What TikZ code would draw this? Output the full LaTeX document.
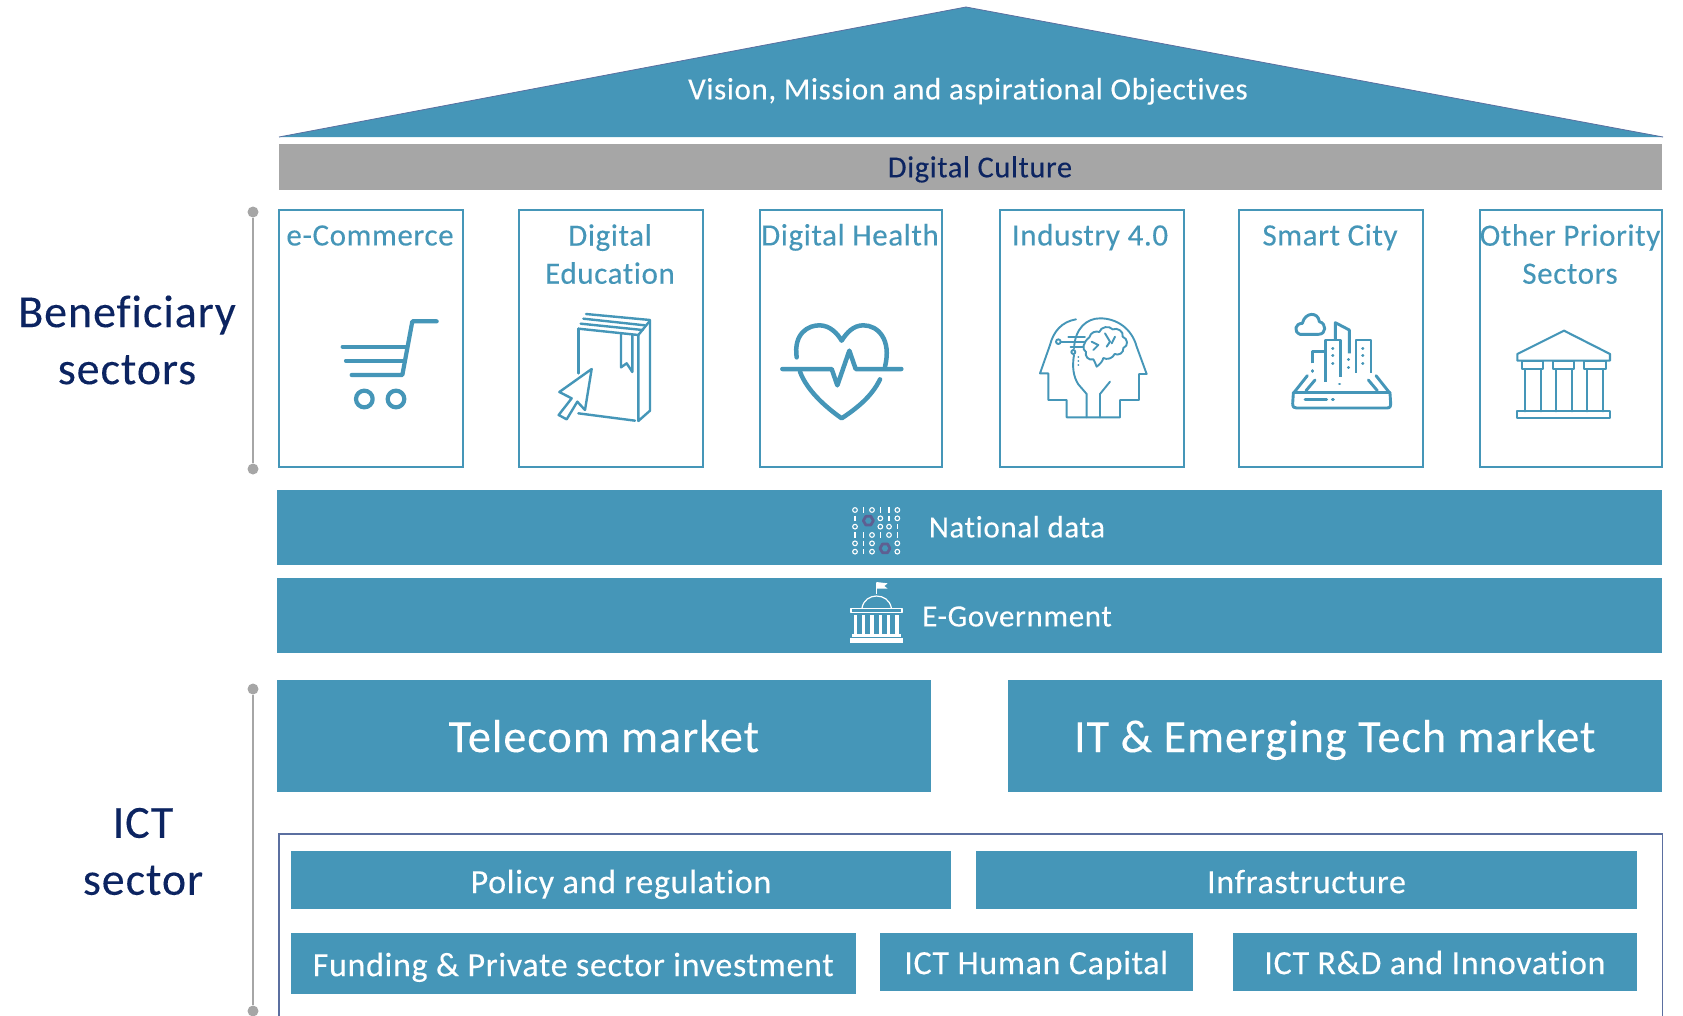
\documentclass[tikz,border=0pt]{standalone}
\usepackage{fontspec}
\setmainfont{Carlito}[Ligatures=NoCommon,LetterSpace=2,FakeBold=0.2]
\definecolor{teal}{HTML}{4596B8}
\definecolor{navy}{HTML}{0C2461}
\definecolor{midgray}{HTML}{A6A6A6}
\definecolor{frameblue}{HTML}{5B6FA0}
\definecolor{gearpurple}{HTML}{5E5F92}
\newcommand{\fs}[1]{\fontsize{#1}{#1}\selectfont}
\tikzset{
  ft/.style={font=\fs{#1},text height=0.68*#1pt,text depth=0.2*#1pt},
  bar/.style={fill=teal,draw=none,text=white,inner sep=0pt,align=center},
  lab/.style={text=white,inner sep=0pt},
  card/.style={draw=teal,line width=1.6pt,fill=white,inner sep=0pt},
  cardtext/.style={text=teal,align=center,inner sep=0pt},
  side/.style={text=navy,align=center,inner sep=0pt,font=\fs{46}},
  icon/.style={draw=teal,line cap=round,line join=round},
  gdot/.style={circle,fill=midgray,draw=none,minimum size=11pt,inner sep=0pt},
  wicon/.style={draw=white,line join=round},
}
\begin{document}
\begin{tikzpicture}[x=1pt,y=-1pt]
\useasboundingbox (0,0) rectangle (1683,1015);
\clip (0,0) rectangle (1683,1015);
% roof
\fill[teal] (966,7) -- (1663,137) -- (279,137) -- cycle;
\draw[frameblue,line width=0.8pt] (279,137) -- (966,7) -- (1663,137);
\node[lab,ft=31] (vision) at (968,92) {Vision, Mission and aspirational Objectives};
% culture
\node[fill=midgray,minimum width=1382.5pt,minimum height=46pt,inner sep=0pt] (culture) at (970.25,167) {};
\node[text=navy,inner sep=0pt,ft=30.5] (culturetext) at (980,170) {Digital Culture};
% cards
\foreach \n/\a/\b in {c1/279/463,c2/519/703,c3/760/942,c4/1000/1184,c5/1239/1423,c6/1480/1662}{
  \pgfmathsetmacro{\cx}{(\a+\b)/2}
  \pgfmathsetmacro{\w}{\b-\a}
  \node[card,minimum width=\w pt,minimum height=257pt] (\n) at (\cx,338.5) {};
}
\node[cardtext,ft=31] (t1) at (370,238) {e-Commerce};
\node[cardtext,font=\fs{31},anchor=north] (t2) at (610,224) {Digital\\[7pt]Education};
\node[cardtext,ft=31] (t3) at (850,238) {Digital Health};
\node[cardtext,ft=31] (t4) at (1090,238) {Industry 4.0};
\node[cardtext,ft=31] (t5) at (1330,238) {Smart City};
\node[cardtext,font=\fs{31},anchor=north] (t6) at (1570,224) {Other Priority\\[7pt]Sectors};
% bars
\node[bar,minimum width=1384.5pt,minimum height=75pt] (data) at (969.25,527) {};
\node[lab,ft=31] (datatext) at (1017,530) {National data};
\node[bar,minimum width=1384.5pt,minimum height=75pt] (gov) at (969.25,615.5) {};
\node[lab,ft=31] (govtext) at (1017,619) {E-Government};
\node[bar,minimum width=653.5pt,minimum height=112pt] (telecom) at (603.75,736) {};
\node[lab,ft=46.3] (telecomtext) at (603.75,741) {Telecom market};
\node[bar,minimum width=653.5pt,minimum height=112pt] (it) at (1334.75,736) {};
\node[lab,ft=46.3] (ittext) at (1334.75,741) {IT \& Emerging Tech market};
% frame
\draw[frameblue,line width=1.2pt] (279,1020) -- (279,834) -- (1662.5,834) -- (1662.5,1020);
\node[bar,minimum width=660pt,minimum height=58pt] (policy) at (621,880) {};
\node[lab,ft=34] (policytext) at (621,885) {Policy and regulation};
\node[bar,minimum width=661pt,minimum height=58pt] (infra) at (1306.5,880) {};
\node[lab,ft=34] (infratext) at (1306.5,885) {Infrastructure};
\node[bar,minimum width=564.5pt,minimum height=61pt] (fund) at (573.25,963.5) {};
\node[lab,ft=34] (fundtext) at (573.25,968) {Funding \& Private sector investment};
\node[bar,minimum width=312.5pt,minimum height=58pt] (hc) at (1036.25,962) {};
\node[lab,ft=34] (hctext) at (1036.25,966) {ICT Human Capital};
\node[bar,minimum width=404pt,minimum height=58pt] (rd) at (1435,962) {};
\node[lab,ft=34] (rdtext) at (1435,966) {ICT R\&D and Innovation};
% side labels
\node[side] (ben) at (127,340) {Beneficiary\\[11pt]sectors};
\node[side] (ict) at (143,851.5) {ICT\\[11pt]sector};
\node[gdot] (b1) at (253,212) {};
\node[gdot] (b2) at (253,469) {};
\node[gdot] (i1) at (253,689) {};
\node[gdot] (i2) at (253,1011) {};
\draw[midgray,line width=1.6pt] (b1) -- (b2);
\draw[midgray,line width=1.6pt] (i1) -- (i2);
% cart
\begin{scope}[shift={(270,200)},scale=1/3,icon,line width=4.2pt]
\draw (500,364) -- (427,364) -- (397,525) -- (245,525);
\draw (218,440) -- (410,440);
\draw (228,482) -- (403,482);
\draw (283,597) circle (25);
\draw (378,597) circle (25);
\end{scope}
% book
\begin{scope}[shift={(270,200)},scale=1/3,icon,line width=2.4pt]
\draw (948,342) -- (1140,360) -- (1140,632) -- (1105,663) -- (1105,405);
\draw (940,356) -- (1125,376);
\draw (932,371) -- (1118,390);
\draw (925,386) -- (1105,405) -- (1140,362);
\draw (925,386) -- (925,520);
\draw (925,640) -- (1095,662);
\draw (1053,400) -- (1053,502) -- (1070,490) -- (1087,516) -- (1087,405);
\draw (965,507) -- (868,576) -- (905,595) -- (866,645) -- (890,658) -- (922,605) -- (945,630) -- cycle;
\end{scope}
% heart
\begin{scope}[shift={(750,200)},scale=1/3,icon,line width=4.5pt]
\draw (140,472) .. controls (130,400) and (175,375) .. (210,376) .. controls (240,377) and (262,400) .. (275,422) .. controls (290,398) and (310,376) .. (340,376) .. controls (385,376) and (425,420) .. (405,500);
\draw (97,507) -- (245,507) -- (262,556) -- (298,452) -- (317,507) -- (454,507);
\draw (150,515) .. controls (170,570) and (225,620) .. (275,655) .. controls (320,625) and (365,590) .. (390,538);
\end{scope}
% head
\begin{scope}[shift={(750,200)},scale=1/3,icon,line width=1.9pt]
\draw (978,358) .. controls (935,365) and (910,395) .. (900,435) -- (870,520) -- (895,520) -- (895,600) -- (950,600) -- (950,652) -- (1110,652) -- (1110,600) -- (1167,600) -- (1167,522) -- (1190,522) -- (1160,440) .. controls (1145,385) and (1100,355) .. (1050,355) .. controls (1010,355) and (975,385) .. (972,445);
\draw (972,465) .. controls (966,500) and (970,530) .. (985,553) -- (1010,582) -- (1010,652);
\draw (1050,652) -- (1050,582) -- (1080,545);
\draw (925,425) circle (7);
\draw (932,425) -- (1003,425);
\draw (955,410) -- (1005,410);
\draw (962,440) -- (1000,440);
\draw (970,456) circle (6);
\foreach \y in {470,483,496}{\draw (985,\y) -- (985.5,\y);}
\draw (1018,412) .. controls (1022,396) and (1038,392) .. (1048,396) .. controls (1052,380) and (1078,376) .. (1088,388) .. controls (1102,382) and (1122,394) .. (1118,410) .. controls (1134,416) and (1136,438) .. (1120,444) .. controls (1122,458) and (1106,468) .. (1094,462) .. controls (1088,476) and (1070,480) .. (1060,474) .. controls (1058,484) and (1050,492) .. (1040,500) .. controls (1036,490) and (1034,484) .. (1030,478) .. controls (1014,482) and (1004,468) .. (1008,456) .. controls (994,448) and (1000,426) .. (1018,412) -- cycle;
\draw (1065,400) -- (1080,425) -- (1070,440);
\draw (1095,410) -- (1085,430);
\draw (1025,425) -- (1045,435) -- (1030,450);
\end{scope}
% city
\begin{scope}[shift={(1230,200)},scale=1/3,icon,line width=2.9pt]
\draw (210,403) .. controls (190,395) and (195,370) .. (217,370) .. controls (225,335) and (265,335) .. (268,365) .. controls (290,370) and (290,403) .. (265,403) -- cycle;
\draw[line cap=butt] (247,490) -- (247,455) -- (287,455);
\draw (247,512) -- (247,514);
\draw[line cap=butt] (287,545) -- (287,420) -- (332,420) -- (332,530);
\draw[line cap=butt] (316,420) -- (316,368) -- (358,390) -- (358,460);
\draw[line cap=butt] (378,518) -- (378,420) -- (423,420) -- (423,518);
\foreach \x/\y in {308/445,308/467,308/490,355/478,355/502,398/445,398/467,398/490,328/552}{\draw (\x,\y) -- (\x+1,\y);}
\draw (232,527) -- (190,580) -- (188,610) .. controls (188,622) and (192,624) .. (200,624) -- (470,624) .. controls (480,624) and (482,620) .. (482,610) -- (480,580) -- (438,527);
\draw (255,540) -- (228,572);
\draw (415,540) -- (442,572);
\draw (190,578) -- (480,578);
\draw (225,599) -- (290,599);
\draw (307,599) -- (310,599);
\end{scope}
% temple
\begin{scope}[shift={(1230,200)},scale=1/3,icon,line width=2.1pt]
\draw (862,462) -- (1002,392) -- (1140,462) -- (1140,482) -- (862,482) -- cycle;
\draw (875,484) rectangle (940,506);
\draw (968,484) rectangle (1033,506);
\draw (1062,484) rectangle (1127,506);
\foreach \x in {884,932,977,1025,1070,1119}{\draw (\x,508) -- (\x,634);}
\draw (862,634) rectangle (1140,655);
\end{scope}
% data icon
\begin{scope}[shift={(800,490)},scale=1/3]
\foreach \x/\y in {165/60,216/60,292/60,241/85,292/85,165/110,241/110,267/110,216/135,267/135,165/160,216/160,292/160,165/185,216/185,292/185}{\draw[white,line width=1.1pt] (\x,\y) circle (7);}
\foreach \x/\y in {190/60,241/60,267/60,165/85,267/85,292/110,190/135,241/135,292/135,165/135,190/160,190/185}{\draw[white,line width=1.1pt] (\x,\y-8) -- (\x,\y+8);}
\draw[gearpurple,line width=2.8pt,line join=round] (205,92) +(0:15) -- +(60:15) -- +(120:15) -- +(180:15) -- +(240:15) -- +(300:15) -- cycle;
\draw[gearpurple,line width=2.8pt,line join=round] (255,175) +(0:15) -- +(60:15) -- +(120:15) -- +(180:15) -- +(240:15) -- +(300:15) -- cycle;
\end{scope}
% government icon
\begin{scope}[shift={(800,490)},scale=1/3]
\draw[wicon,line width=1.2pt] (229,312) -- (229,278);
\fill[white] (229,276) -- (263,280) -- (253,288) -- (263,296) -- (229,296) -- cycle;
\draw[wicon,line width=1.2pt] (186,354) .. controls (190,330) and (210,318) .. (229,318) .. controls (250,318) and (270,330) .. (274,354);
\draw[wicon,line width=1.4pt] (153,355) rectangle (306,368);
\foreach \x in {166,191,216,241,266,291}{\fill[white] (\x-5,375) rectangle (\x+5,433);}
\fill[white] (155,433) rectangle (303,441);
\fill[white] (151,444) rectangle (308,459);
\end{scope}
\end{tikzpicture}
\end{document}
